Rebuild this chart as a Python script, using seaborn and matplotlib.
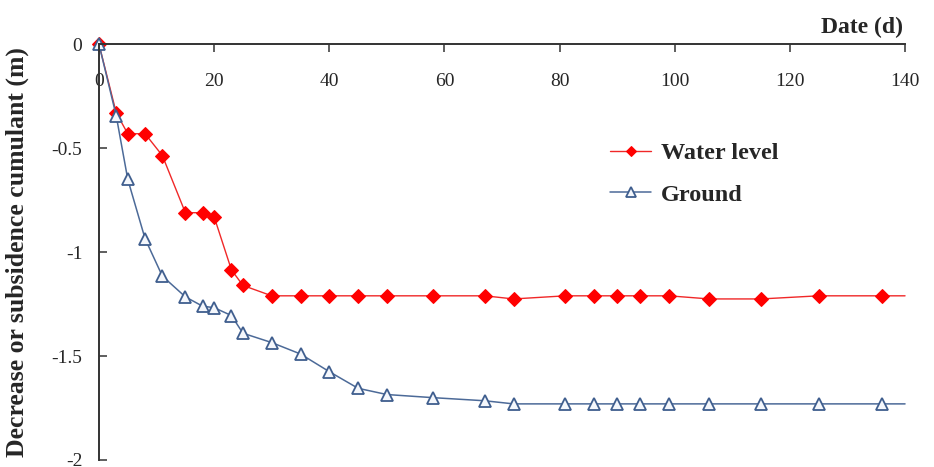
import matplotlib
matplotlib.use("Agg")
import matplotlib.pyplot as plt
import seaborn as sns
import pandas as pd

# ---- data ----
days = [0, 3, 5, 8, 11, 15, 18, 20, 23, 25, 30, 35, 40, 45, 50, 58, 67, 72,
        81, 86, 90, 94, 99, 106, 115, 125, 136, 140]
water_level = [0, -0.33, -0.43, -0.43, -0.535, -0.81, -0.81, -0.83, -1.085, -1.16,
               -1.21, -1.21, -1.21, -1.21, -1.21, -1.21, -1.21, -1.225,
               -1.21, -1.21, -1.21, -1.21, -1.21, -1.225, -1.225, -1.21, -1.21, -1.21]
ground = [0, -0.345, -0.65, -0.935, -1.115, -1.215, -1.26, -1.267, -1.305, -1.39,
          -1.435, -1.49, -1.575, -1.655, -1.685, -1.70, -1.715, -1.73,
          -1.73, -1.73, -1.73, -1.73, -1.73, -1.73, -1.73, -1.73, -1.73, -1.73]
series_names = ["Water level", "Ground"]
x_ticks = [0, 20, 40, 60, 80, 100, 120, 140]
y_ticks = [0, -0.5, -1, -1.5, -2]
y_tick_labels = ["0", "-0.5", "-1", "-1.5", "-2"]

sns.set_style("white")
plt.rcParams["font.family"] = ["Liberation Serif", "DejaVu Serif"]

fig = plt.figure(figsize=(9.34, 4.67), dpi=100)
ax = fig.add_axes([0.106, 0.015, 0.863, 0.890])

n = len(days)
marks = list(range(n - 1))  # last point (x=140) has no marker

sns.lineplot(x=days, y=water_level, ax=ax, color="#F02828", linewidth=1.0,
             marker="D", markersize=7, markerfacecolor="#FF0000",
             markeredgecolor="#FF0000", markevery=marks, label=series_names[0],
             clip_on=False, estimator=None, sort=False)
sns.lineplot(x=days, y=ground, ax=ax, color="#4C6A98", linewidth=1.1,
             marker="^", markersize=9, markerfacecolor="#F4F7FC",
             markeredgecolor="#3F5E8E", markeredgewidth=1.3, markevery=marks,
             label=series_names[1], clip_on=False, estimator=None, sort=False)

ax.set_xlim(0, 140)
ax.set_ylim(-2, 0)
ax.set_xticks(x_ticks)
ax.set_xticklabels([str(t) for t in x_ticks])
ax.set_yticks(y_ticks)
ax.set_yticklabels(y_tick_labels)

for s in ["right", "bottom"]:
    ax.spines[s].set_visible(False)
for s in ["left", "top"]:
    ax.spines[s].set_color("#333333")
    ax.spines[s].set_linewidth(1.4)

ax.tick_params(axis="x", top=True, bottom=False, labeltop=True, labelbottom=False,
               direction="in", length=5.5, width=1.1, color="#333333",
               pad=-33, labelsize=14)
ax.tick_params(axis="y", left=True, direction="in", length=5.5, width=1.1,
               color="#333333", pad=12, labelsize=14)

ax.xaxis.set_label_position("top")
ax.set_xlabel("Date (d)", fontsize=17, fontweight="bold")
ax.xaxis.set_label_coords(0.9975, 1.041)
ax.xaxis.label.set_ha("right")
ax.xaxis.label.set_va("center")

ax.set_ylabel("Decrease or subsidence cumulant (m)", fontsize=18.5, fontweight="bold")
ax.yaxis.set_label_coords(-0.101, 0.5)
ax.yaxis.label.set_va("center")

leg = ax.legend(loc="upper left", bbox_to_anchor=(0.634, 0.764), frameon=False,
                borderpad=0, borderaxespad=0, handlelength=1.7, handletextpad=0.4,
                labelspacing=0.8, markerscale=0.75, numpoints=1,
                prop={"family": "Liberation Serif", "weight": "bold", "size": 17.5})
for lh in leg.get_lines():
    lh.set_markevery([1])

fig.savefig("out.png", dpi=100)
